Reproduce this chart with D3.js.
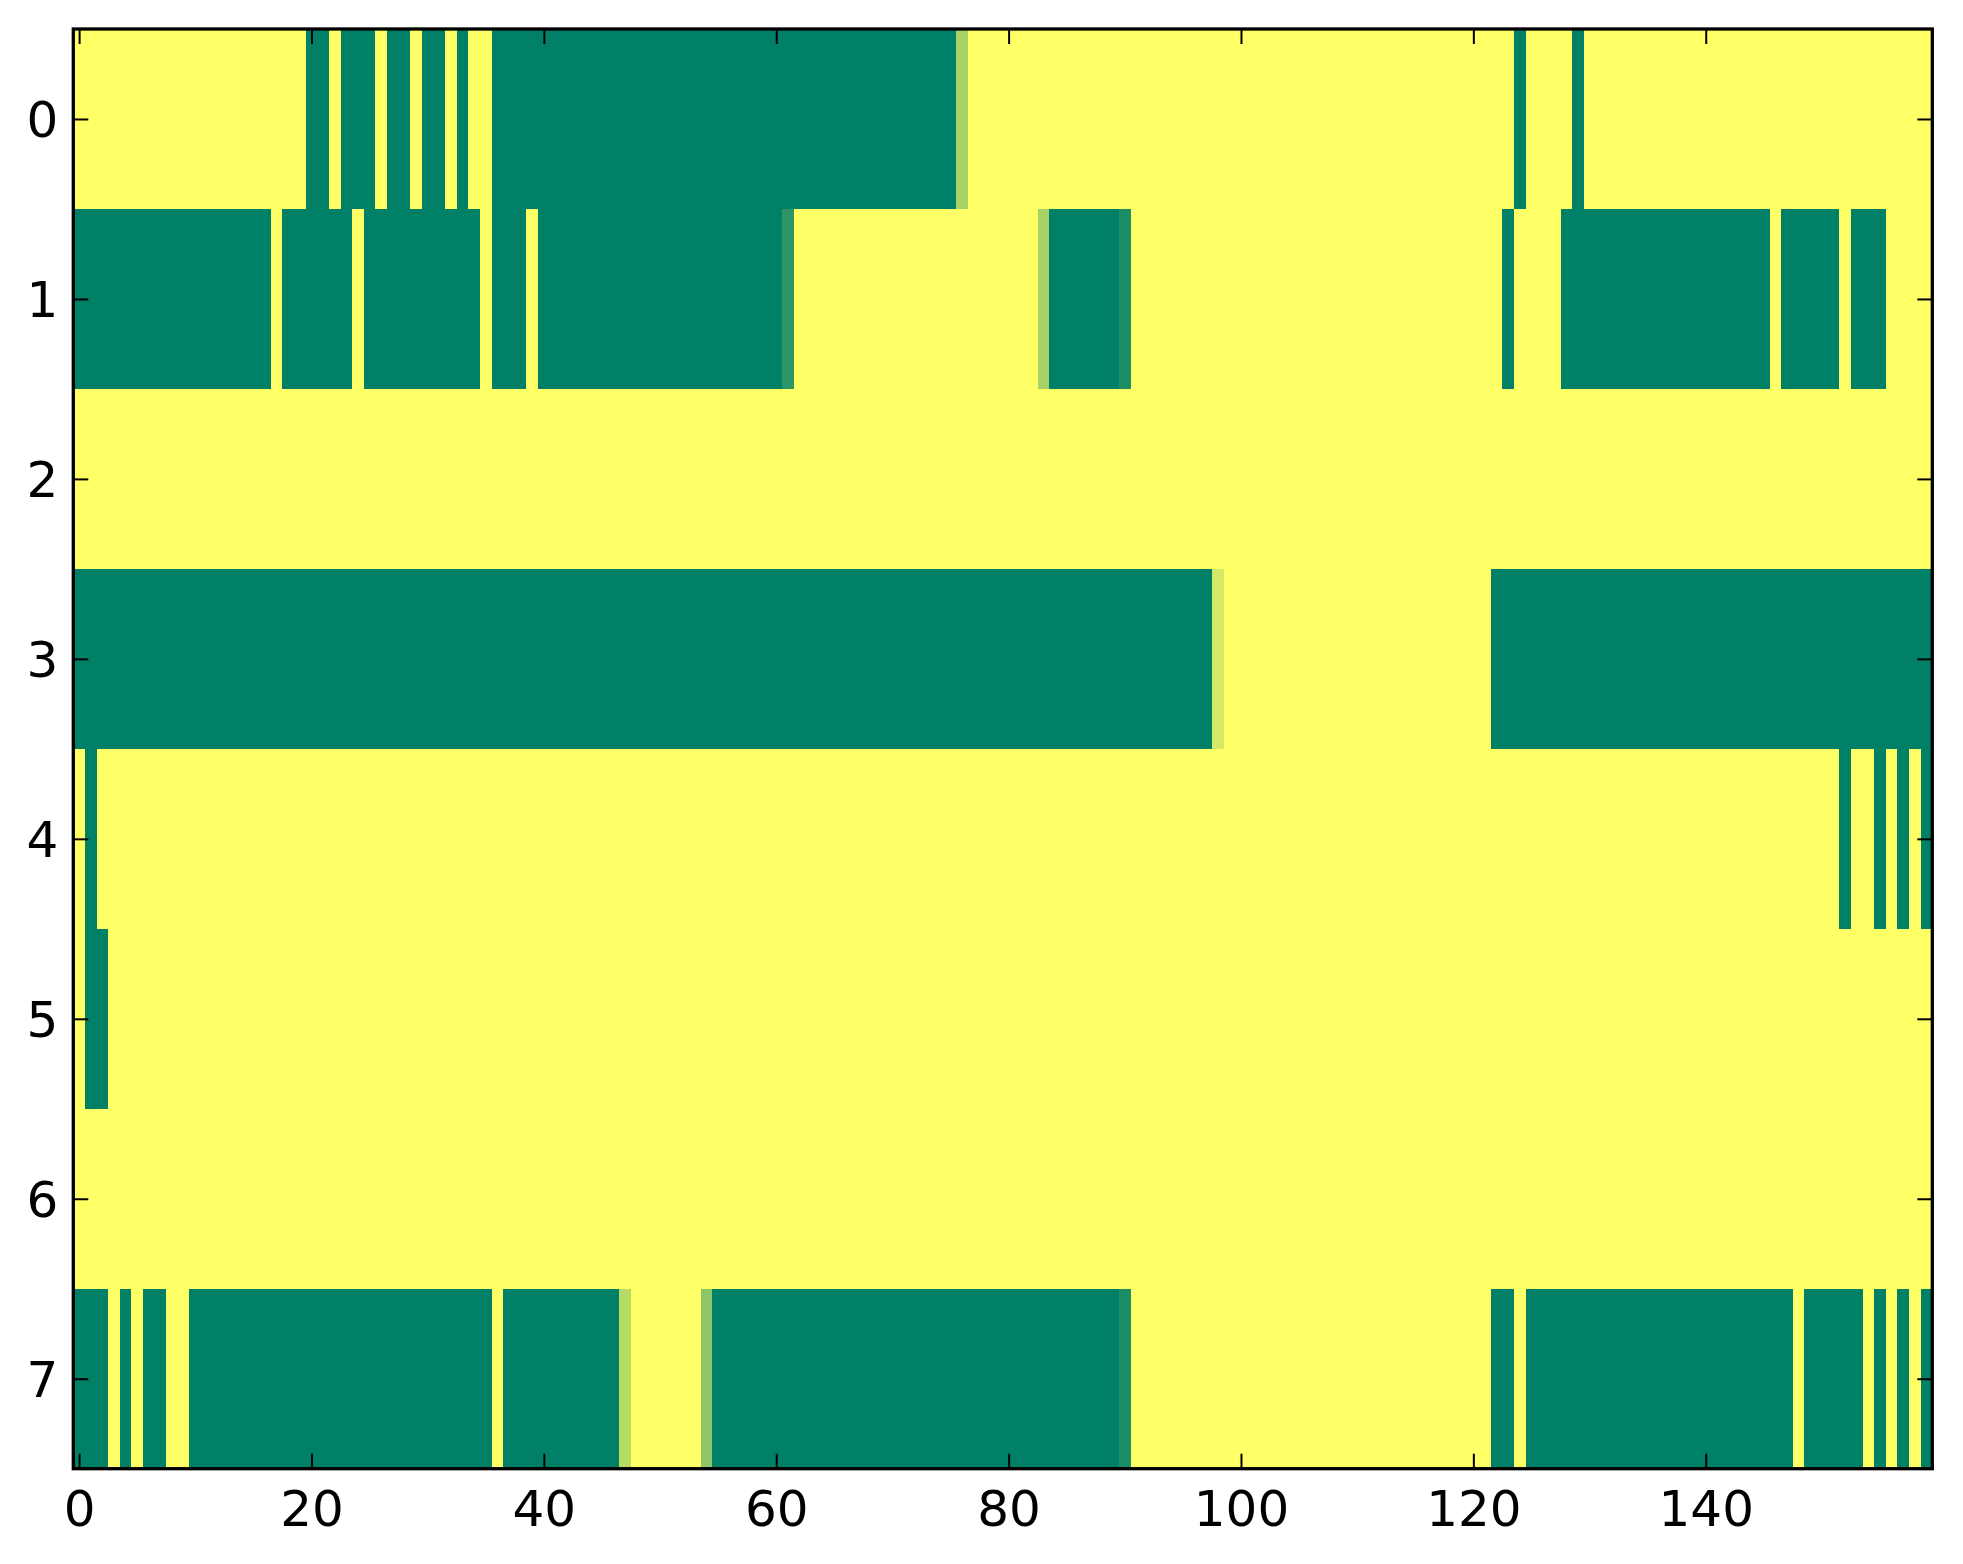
<!DOCTYPE html>
<html>
<head>
<meta charset="utf-8">
<script src="https://cdn.jsdelivr.net/npm/d3@7"></script>
<style>
  html, body { margin: 0; padding: 0; background: #ffffff; }
  svg { display: block; }
  text { font-family: "DejaVu Sans", sans-serif; }
</style>
</head>
<body>
<svg id="chart" width="1963" height="1564"></svg>
<script>
// ---- data: each row is a list of runs [value, number of columns] (160 columns per row) ----
const rowLabels = [0, 1, 2, 3, 4, 5, 6, 7];
const nCols = 160;
const xTickValues = [0, 20, 40, 60, 80, 100, 120, 140];

const row0 = [[1,20],[0,2],[1,1],[0,3],[1,1],[0,2],[1,1],[0,2],[1,1],[0,1],[1,2],[0,40],[0.65,1],[1,47],[0,1],[1,4],[0,1],[1,30]];
const row1 = [[0,17],[1,1],[0,6],[1,1],[0,10],[1,1],[0,3],[1,1],[0,21],[0.18,1],[1,21],[0.65,1],[0,6],[0.1,1],[1,32],[0,1],[1,4],[0,18],[1,1],[0,5],[1,1],[0,3],[1,4]];
const row2 = [[1,160]];
const row3 = [[0,98],[0.83,1],[1,23],[0,38]];
const row4 = [[1,1],[0,1],[1,150],[0,1],[1,2],[0,1],[1,1],[0,1],[1,1],[0,1]];
const row5 = [[1,1],[0,2],[1,157]];
const row6 = [[1,160]];
const row7 = [[0,3],[1,1],[0,1],[1,1],[0,2],[1,2],[0,26],[1,1],[0,10],[0.72,1],[1,6],[0.55,1],[0,35],[0.1,1],[1,31],[0,2],[1,1],[0,23],[1,1],[0,5],[1,1],[0,1],[1,1],[0,1],[1,1],[0,1]];
const rowRuns = [row0, row1, row2, row3, row4, row5, row6, row7];

// build cell table from the runs
const cells = [];
rowRuns.forEach((runs, r) => {
  let c = 0;
  runs.forEach(([v, n]) => {
    for (let k = 0; k < n; k++) { cells.push({ row: r, col: c, value: v }); c++; }
  });
});

// ---- layout ----
const L = 73.3, R = 1932.3, T = 29, B = 1468.7;
const svg = d3.select("#chart");

const x = d3.scaleLinear().domain([-0.5, nCols - 0.5]).range([L, R]);
const y = d3.scaleLinear().domain([-0.5, rowLabels.length - 0.5]).range([T, B]);

// matplotlib "summer" colormap
const summer = v => d3.rgb(255 * v, 255 * (0.5 + v / 2), 255 * 0.4);

svg.append("g")
  .attr("shape-rendering", "crispEdges")
  .selectAll("rect")
  .data(cells)
  .join("rect")
  .attr("x", d => x(d.col - 0.5))
  .attr("y", d => y(d.row - 0.5))
  .attr("width", d => x(d.col + 0.5) - x(d.col - 0.5) + 0.5)
  .attr("height", d => y(d.row + 0.5) - y(d.row - 0.5) + 0.5)
  .attr("fill", d => summer(d.value));

// ---- axes (ticks inward on all four sides) ----
const tickLen = 15;
const fontSize = 50;

function styleAxis(g) {
  g.select(".domain").remove();
  g.selectAll(".tick line").attr("stroke", "#000").attr("stroke-width", 2);
}

// bottom
const xb = svg.append("g").attr("transform", `translate(0,${B})`)
  .call(d3.axisBottom(x).tickValues(xTickValues).tickSizeInner(-tickLen).tickSizeOuter(0).tickPadding(0).tickFormat(d3.format("d")));
styleAxis(xb);
xb.selectAll(".tick text")
  .attr("y", 57).attr("dy", null)
  .attr("font-size", fontSize).attr("fill", "#000")
  .attr("font-family", "DejaVu Sans");

// top
const xt = svg.append("g").attr("transform", `translate(0,${T})`)
  .call(d3.axisTop(x).tickValues(xTickValues).tickSizeInner(-tickLen).tickSizeOuter(0).tickFormat(""));
styleAxis(xt);

// left
const yl = svg.append("g").attr("transform", `translate(${L},0)`)
  .call(d3.axisLeft(y).tickValues(rowLabels).tickSizeInner(-tickLen).tickSizeOuter(0).tickPadding(0).tickFormat(d3.format("d")));
styleAxis(yl);
yl.selectAll(".tick text")
  .attr("x", -15).attr("dy", null).attr("y", 18)
  .attr("text-anchor", "end")
  .attr("font-size", fontSize).attr("fill", "#000")
  .attr("font-family", "DejaVu Sans");

// right
const yr = svg.append("g").attr("transform", `translate(${R},0)`)
  .call(d3.axisRight(y).tickValues(rowLabels).tickSizeInner(-tickLen).tickSizeOuter(0).tickFormat(""));
styleAxis(yr);

// frame
svg.append("rect")
  .attr("x", L).attr("y", T)
  .attr("width", R - L).attr("height", B - T)
  .attr("fill", "none").attr("stroke", "#000").attr("stroke-width", 3.3);
</script>
</body>
</html>
